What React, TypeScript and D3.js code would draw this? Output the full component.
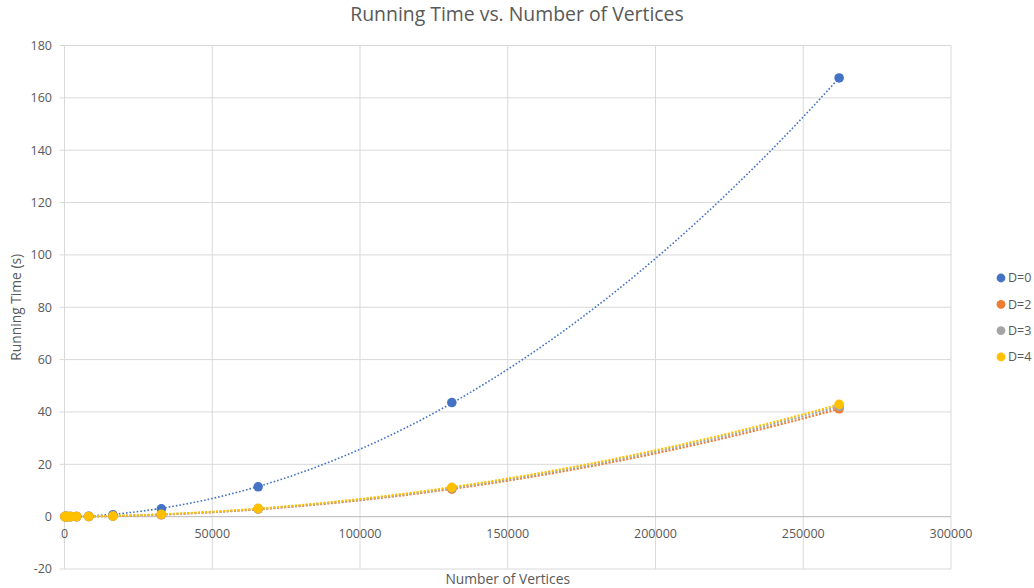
import React from "react";
import * as d3 from "d3";

const vertices = [128, 256, 512, 1024, 2048, 4096, 8192, 16384, 32768, 65536, 131072, 262144];
const d0Times = [0.0, 0.0, 0.0, 0.01, 0.02, 0.05, 0.17, 0.7, 3.0, 11.4, 43.6, 167.6];
const d2Times = [0.0, 0.0, 0.0, 0.0, 0.01, 0.02, 0.06, 0.2, 0.7, 2.9, 10.5, 41.2];
const d3Times = [0.0, 0.0, 0.0, 0.0, 0.01, 0.02, 0.06, 0.2, 0.75, 3.0, 10.9, 42.1];
const d4Times = [0.0, 0.0, 0.0, 0.0, 0.01, 0.02, 0.07, 0.22, 0.9, 3.2, 11.2, 42.9];

const seriesNames = ["D=0", "D=2", "D=3", "D=4"];
const seriesColors = ["#4472C4", "#ED7D31", "#A5A5A5", "#FFC000"];
const seriesValues = [d0Times, d2Times, d3Times, d4Times];

const xTicks = [0, 50000, 100000, 150000, 200000, 250000, 300000];
const yTicks = [-20, 0, 20, 40, 60, 80, 100, 120, 140, 160, 180];

const W = 1034;
const H = 588;
const FONT = "'Open Sans', sans-serif";
const TEXT = "#595959";

// quadratic least-squares fit (Excel polynomial trendline, order 2)
function polyFit2(xs: number[], ys: number[]) {
  const s = 1e5;
  const X = xs.map((v) => v / s);
  const S = [0, 0, 0, 0, 0];
  const T = [0, 0, 0];
  X.forEach((x, i) => {
    for (let k = 0; k < 5; k++) S[k] += Math.pow(x, k);
    for (let k = 0; k < 3; k++) T[k] += Math.pow(x, k) * ys[i];
  });
  const A = [
    [S[0], S[1], S[2], T[0]],
    [S[1], S[2], S[3], T[1]],
    [S[2], S[3], S[4], T[2]],
  ];
  for (let i = 0; i < 3; i++) {
    let p = i;
    for (let r = i + 1; r < 3; r++) if (Math.abs(A[r][i]) > Math.abs(A[p][i])) p = r;
    [A[i], A[p]] = [A[p], A[i]];
    for (let r = 0; r < 3; r++) {
      if (r === i) continue;
      const f = A[r][i] / A[i][i];
      for (let c = i; c < 4; c++) A[r][c] -= f * A[i][c];
    }
  }
  const c = [A[0][3] / A[0][0], A[1][3] / A[1][1], A[2][3] / A[2][2]];
  return (x: number) => {
    const t = x / s;
    return c[0] + c[1] * t + c[2] * t * t;
  };
}

export default function App() {
  const x = d3.scaleLinear().domain([0, 300000]).range([64.5, 951]);
  const y = d3.scaleLinear().domain([-20, 180]).range([569, 45.5]);

  const xMin = d3.min(vertices) as number;
  const xMax = d3.max(vertices) as number;
  const samples = d3.range(0, 201).map((i) => xMin + ((xMax - xMin) * i) / 200);

  const line = d3
    .line<[number, number]>()
    .x((d) => x(d[0]))
    .y((d) => y(d[1]))
    .curve(d3.curveLinear);

  return (
    <div style={{ position: "absolute", left: 0, top: 0 }}>
      <svg width={W} height={H} style={{ display: "block", background: "#fff" }}>
        <rect x={0} y={0} width={W} height={H} fill="#fff" />
        <text x={517} y={21} textAnchor="middle" fontFamily={FONT} fontSize={19.4} fill={TEXT}>
          Running Time vs. Number of Vertices
        </text>

        {/* gridlines */}
        {yTicks.map((t) => (
          <line key={"gy" + t} x1={x(0) - 5} x2={x(300000)} y1={y(t)} y2={y(t)} stroke="#D9D9D9" strokeWidth={1} />
        ))}
        {xTicks.map((t) => (
          <line key={"gx" + t} x1={x(t)} x2={x(t)} y1={y(180)} y2={y(-20)} stroke="#D9D9D9" strokeWidth={1} />
        ))}
        {/* axis line at y=0 */}
        <line x1={x(0)} x2={x(300000)} y1={y(0)} y2={y(0)} stroke="#BFBFBF" strokeWidth={1} />

        {/* tick labels */}
        {yTicks.map((t) => (
          <text key={"ly" + t} x={52} y={y(t)} dy="0.35em" textAnchor="end" fontFamily={FONT} fontSize={12.5} fill={TEXT}>
            {t}
          </text>
        ))}
        {xTicks.map((t) => (
          <text key={"lx" + t} x={x(t)} y={538} textAnchor="middle" fontFamily={FONT} fontSize={12.5} fill={TEXT}>
            {t}
          </text>
        ))}

        {/* axis titles */}
        <text
          transform={`translate(21,${(y(180) + y(-20)) / 2}) rotate(-90)`}
          textAnchor="middle"
          fontFamily={FONT}
          fontSize={13.8}
          fill={TEXT}
        >
          Running Time (s)
        </text>
        <text x={(x(0) + x(300000)) / 2} y={584} textAnchor="middle" fontFamily={FONT} fontSize={13.8} fill={TEXT}>
          Number of Vertices
        </text>

        {/* trendlines */}
        {seriesValues.map((vals, si) => {
          const f = polyFit2(vertices, vals);
          const pts: [number, number][] = samples.map((v) => [v, f(v)]);
          return (
            <path
              key={"tr" + si}
              d={line(pts) || ""}
              fill="none"
              stroke={seriesColors[si]}
              strokeWidth={si === 0 ? 1.6 : 2}
              strokeDasharray={si === 0 ? "1.6 2" : "2 1.6"}
            />
          );
        })}

        {/* markers */}
        {seriesValues.map((vals, si) => (
          <g key={"m" + si}>
            {vals.map((v, i) => (
              <circle key={i} cx={x(vertices[i])} cy={y(v)} r={4.8} fill={seriesColors[si]} />
            ))}
          </g>
        ))}

        {/* legend */}
        {seriesNames.map((n, i) => (
          <g key={"lg" + n} transform={`translate(1001,${278 + i * 26.3})`}>
            <circle cx={0} cy={0} r={4.4} fill={seriesColors[i]} />
            <text x={7} y={0} dy="0.35em" fontFamily={FONT} fontSize={12.5} fill={TEXT}>
              {n}
            </text>
          </g>
        ))}
      </svg>
    </div>
  );
}
